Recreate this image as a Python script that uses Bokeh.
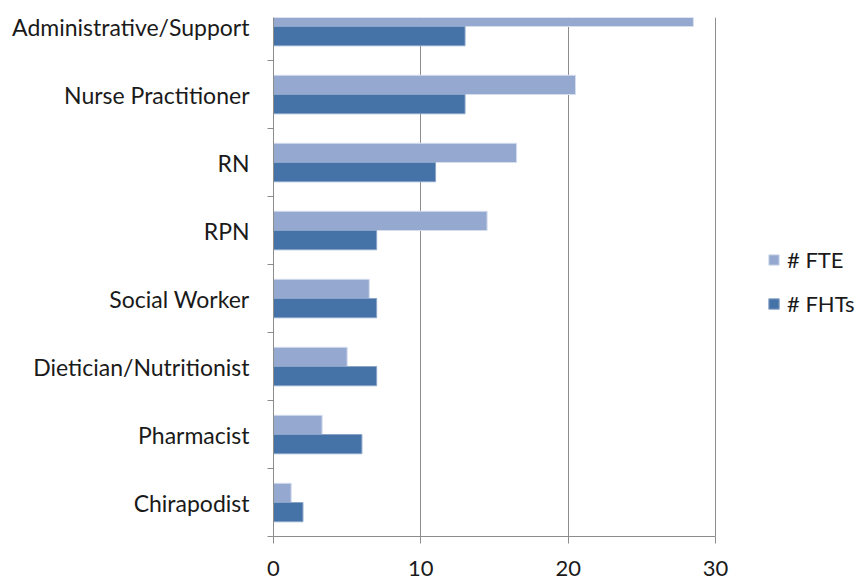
from bokeh.plotting import figure
from bokeh.models import ColumnDataSource, Range1d, FixedTicker, Legend, LegendItem
from bokeh.transform import dodge
from bokeh.embed import file_html
from bokeh.resources import INLINE

categories = ["Chirapodist", "Pharmacist", "Dietician/Nutritionist", "Social Worker",
              "RPN", "RN", "Nurse Practitioner", "Administrative/Support"]
fte = [1.2, 3.3, 5.0, 6.5, 14.5, 16.5, 20.5, 28.5]
fhts = [2, 6, 7, 7, 7, 11, 13, 13]
x_ticks = [0, 10, 20, 30]

FONT = "Lato"
TXT = "#1a1a1a"
GRID = "#8c8c8c"

pos = list(range(len(categories)))
src = ColumnDataSource(dict(pos=pos, cat=categories, fte=fte, fhts=fhts))

W, H = 855, 580
LEFT, TOP, BOTTOM = 273, 17, 536
px_per_unit = (715 - LEFT) / 30.0
x_end = (W - LEFT) / px_per_unit
band_px = 68.0
y_end = -0.5 + (BOTTOM - TOP) / band_px

p = figure(width=W, height=H, output_backend="svg", toolbar_location=None,
           x_range=Range1d(0, x_end), y_range=Range1d(-0.5, y_end),
           min_border_left=LEFT, min_border_right=0, min_border_top=TOP,
           min_border_bottom=H - BOTTOM)
p.outline_line_color = None

bh = 0.283
r1 = p.hbar(y=dodge("pos", bh / 2, range=p.y_range), right="fte", left=0, height=bh,
            source=src, fill_color="#94A8D0", line_color="#d6deee", line_width=1)
r2 = p.hbar(y=dodge("pos", -bh / 2, range=p.y_range), right="fhts", left=0, height=bh,
            source=src, fill_color="#4572A7", line_color="#8aa4c8", line_width=1)

# x axis
p.xaxis.ticker = FixedTicker(ticks=x_ticks)
p.xaxis.bounds = (0, 30)
p.xaxis.axis_line_color = GRID
p.xaxis.major_tick_line_color = GRID
p.xaxis.major_tick_out = 7
p.xaxis.major_tick_in = 0
p.xaxis.minor_tick_line_color = None
p.xaxis.major_label_text_font = FONT
p.xaxis.major_label_text_font_size = "22px"
p.xaxis.major_label_text_color = TXT
p.xaxis.major_label_standoff = 17

# y axis
p.yaxis.ticker = FixedTicker(ticks=pos, minor_ticks=[i - 0.5 for i in pos] + [len(pos) - 0.5])
p.yaxis.major_label_overrides = {i: c for i, c in zip(pos, categories)}
p.yaxis.axis_line_color = GRID
p.yaxis.major_tick_line_color = None
p.yaxis.major_tick_out = 0
p.yaxis.major_tick_in = 0
p.yaxis.minor_tick_line_color = GRID
p.yaxis.minor_tick_out = 6
p.yaxis.minor_tick_in = 0
p.yaxis.major_label_text_font = FONT
p.yaxis.major_label_text_font_size = "23px"
p.yaxis.major_label_text_color = TXT
p.yaxis.major_label_standoff = 18

p.xgrid.ticker = FixedTicker(ticks=x_ticks)
p.xgrid.grid_line_color = GRID
p.ygrid.grid_line_color = None

legend = Legend(items=[LegendItem(label="# FTE", renderers=[r1]),
                       LegendItem(label="# FHTs", renderers=[r2])],
                location=(494, 219))
legend.border_line_color = None
legend.background_fill_alpha = 0
legend.padding = 0
legend.margin = 0
legend.spacing = 17
legend.glyph_width = 13
legend.glyph_height = 13
legend.label_standoff = 7
legend.label_text_font = FONT
legend.label_text_font_size = "22px"
legend.label_text_color = TXT
p.add_layout(legend)

open("out.html", "w").write(file_html(p, INLINE))
